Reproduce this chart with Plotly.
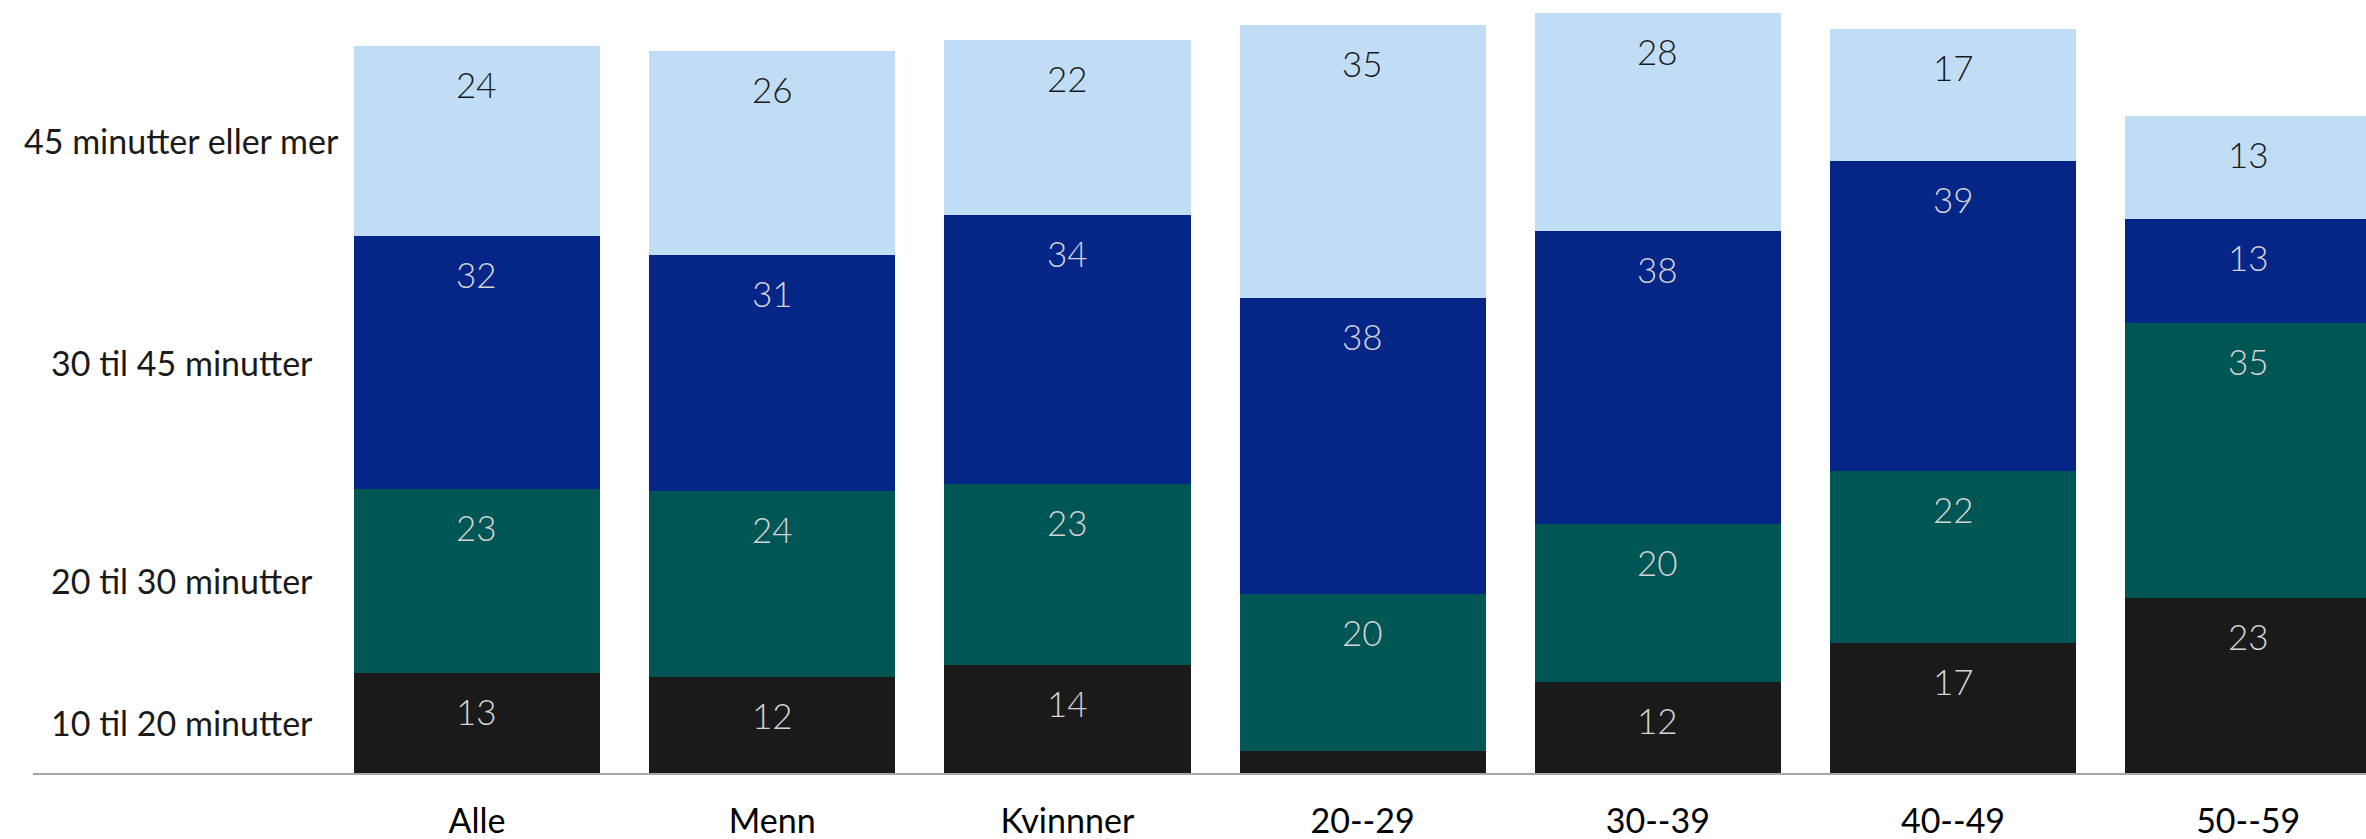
import plotly.graph_objects as go

categories = ["Alle", "Menn", "Kvinnner", "20--29", "30--39", "40--49", "50--59"]
series_names = ["10 til 20 minutter", "20 til 30 minutter", "30 til 45 minutter", "45 minutter eller mer"]

# segment heights
v_10_20 = [12.7, 12.1, 13.7, 2.8, 11.5, 16.4, 22.1]
v_20_30 = [23.2, 23.5, 22.8, 19.8, 20.0, 21.8, 34.8]
v_30_45 = [32.0, 29.9, 34.0, 37.4, 37.0, 39.1, 13.1]
v_45_plus = [24.0, 25.8, 22.1, 34.5, 27.5, 16.7, 13.0]

# printed labels
l_10_20 = ["13", "12", "14", "", "12", "17", "23"]
l_20_30 = ["23", "24", "23", "20", "20", "22", "35"]
l_30_45 = ["32", "31", "34", "38", "38", "39", "13"]
l_45_plus = ["24", "26", "22", "35", "28", "17", "13"]

colors = ["#1a1a1a", "#005555", "#052587", "#c1dcf5"]
label_colors = ["#d4d4d4", "#d4d4d4", "#d4d4d4", "#1a1a1a"]

values = [v_10_20, v_20_30, v_30_45, v_45_plus]
labels = [l_10_20, l_20_30, l_30_45, l_45_plus]

fig = go.Figure()
for name, vals, col in zip(series_names, values, colors):
    fig.add_trace(go.Bar(x=categories, y=vals, name=name, marker=dict(color=col, line=dict(width=0)),
                         hoverinfo="skip"))

annotations = []
cum = [0.0] * len(categories)
for s, (vals, labs) in enumerate(zip(values, labels)):
    for i, cat in enumerate(categories):
        top = cum[i] + vals[i]
        if labs[i]:
            annotations.append(dict(x=cat, y=top, xref="x", yref="y", text=labs[i], showarrow=False,
                                    yanchor="middle", yshift=-38,
                                    font=dict(family="Lato", size=35, color=label_colors[s], weight=300)))
        cum[i] = top

# left-side series labels, centred on the first bar's segments
base = 0.0
for name, vals in zip(series_names, values):
    mid = base + vals[0] / 2
    annotations.append(dict(x=-1, y=mid, xref="x", yref="y", text=name, showarrow=False,
                            xanchor="center", yanchor="middle",
                            font=dict(family="Lato", size=34, color="#1a1a1a")))
    base += vals[0]

fig.update_layout(
    barmode="stack",
    bargap=0.166,
    width=2366, height=839,
    margin=dict(l=33, r=0, t=0, b=66),
    paper_bgcolor="white", plot_bgcolor="white",
    showlegend=False,
    annotations=annotations,
    xaxis=dict(range=[-1.504, 6.399], showline=True, linecolor="#a6a6a6", linewidth=2,
               ticks="outside", ticklen=17, tickcolor="rgba(0,0,0,0)",
               tickfont=dict(family="Lato", size=34, color="#000000"), showgrid=False, fixedrange=True),
    yaxis=dict(range=[0, 97.7], visible=False, showgrid=False, fixedrange=True),
)

fig.write_html("out.html")
